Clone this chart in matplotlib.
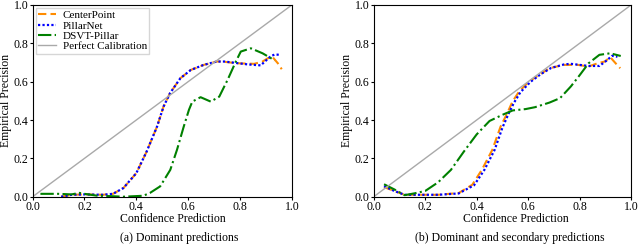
import matplotlib
matplotlib.use("Agg")
import matplotlib.pyplot as plt

plt.rcParams['font.family'] = ['Liberation Serif', 'DejaVu Serif']

# (a) dominant predictions
a_cp_x = [0.11, 0.15, 0.2, 0.27, 0.31, 0.35, 0.4, 0.44, 0.48, 0.505, 0.53, 0.57, 0.61, 0.66, 0.71, 0.73, 0.79, 0.855, 0.887, 0.907, 0.926, 0.946, 0.961]
a_cp_y = [0.0, 0.01, 0.012, 0.01, 0.015, 0.045, 0.123, 0.236, 0.366, 0.47, 0.54, 0.618, 0.661, 0.6875, 0.705, 0.705, 0.696, 0.693, 0.705, 0.722, 0.728, 0.696, 0.665]
a_pn_x = [0.11, 0.15, 0.2, 0.27, 0.31, 0.35, 0.4, 0.44, 0.48, 0.505, 0.53, 0.57, 0.61, 0.66, 0.71, 0.74, 0.8, 0.83, 0.88, 0.9, 0.92, 0.935, 0.952]
a_pn_y = [0.0, 0.01, 0.012, 0.01, 0.015, 0.045, 0.123, 0.236, 0.366, 0.47, 0.54, 0.618, 0.661, 0.6875, 0.705, 0.705, 0.695, 0.69, 0.685, 0.71, 0.734, 0.742, 0.74]
a_ds_x = [0.03, 0.1, 0.15, 0.18, 0.2, 0.25, 0.3, 0.35, 0.427, 0.453, 0.492, 0.531, 0.557, 0.583, 0.603, 0.616, 0.648, 0.687, 0.72, 0.739, 0.752, 0.784, 0.803, 0.842, 0.887, 0.92, 0.933]
a_ds_y = [0.015, 0.015, 0.012, 0.02, 0.015, 0.005, 0.003, 0.0, 0.005, 0.02, 0.054, 0.14, 0.245, 0.366, 0.453, 0.496, 0.519, 0.496, 0.522, 0.574, 0.609, 0.705, 0.757, 0.774, 0.748, 0.722, 0.71]

# (b) dominant and secondary predictions
b_cp_x = [0.04, 0.08, 0.12, 0.2, 0.25, 0.33, 0.383, 0.42, 0.461, 0.493, 0.519, 0.539, 0.565, 0.603, 0.642, 0.683, 0.738, 0.794, 0.835, 0.87, 0.898, 0.919, 0.94, 0.958]
b_cp_y = [0.05, 0.03, 0.01, 0.01, 0.01, 0.019, 0.0625, 0.14, 0.245, 0.366, 0.436, 0.496, 0.549, 0.60, 0.635, 0.67, 0.6875, 0.6875, 0.679, 0.696, 0.705, 0.728, 0.696, 0.67]
b_pn_x = [0.04, 0.08, 0.12, 0.2, 0.25, 0.33, 0.39, 0.43, 0.47, 0.5, 0.525, 0.545, 0.57, 0.61, 0.65, 0.69, 0.74, 0.766, 0.835, 0.877, 0.905, 0.926, 0.947]
b_pn_y = [0.055, 0.03, 0.01, 0.01, 0.01, 0.017, 0.06, 0.14, 0.245, 0.36, 0.436, 0.49, 0.545, 0.60, 0.64, 0.672, 0.69, 0.693, 0.682, 0.682, 0.71, 0.735, 0.73]
b_ds_x = [0.04, 0.08, 0.12, 0.16, 0.2, 0.25, 0.3, 0.35, 0.4, 0.45, 0.5, 0.54, 0.59, 0.627, 0.683, 0.724, 0.766, 0.801, 0.835, 0.877, 0.919, 0.96]
b_ds_y = [0.065, 0.038, 0.008, 0.018, 0.03, 0.075, 0.14, 0.235, 0.325, 0.395, 0.427, 0.45, 0.457, 0.467, 0.491, 0.514, 0.575, 0.635, 0.696, 0.74, 0.748, 0.734]

panels = [
    ((a_cp_x, a_cp_y), (a_pn_x, a_pn_y), (a_ds_x, a_ds_y), '(a) Dominant predictions'),
    ((b_cp_x, b_cp_y), (b_pn_x, b_pn_y), (b_ds_x, b_ds_y), '(b) Dominant and secondary predictions'),
]

fig = plt.figure(figsize=(6.4, 2.49), dpi=100)
rects = [[0.051, 0.21, 0.405, 0.77], [0.584, 0.21, 0.402, 0.77]]
xlab_pos = [0.54, 0.554]
cap_pos = [0.28, 0.797]

for i, (cp, pn, ds, cap) in enumerate(panels):
    ax = fig.add_axes(rects[i])
    ax.plot(cp[0], cp[1], linestyle=(0, (4, 2)), color='#ff8c00', lw=1.5, label='CenterPoint')
    ax.plot(pn[0], pn[1], linestyle=(0, (1, 1)), color='blue', lw=1.6, label='PillarNet')
    ax.plot(ds[0], ds[1], linestyle='-.', color='green', lw=1.5, label='DSVT-Pillar')
    ax.plot([0, 1], [0, 1], color='darkgray', lw=1.0, label='Perfect Calibration')
    ax.set_xlim(0, 1)
    ax.set_ylim(0, 1)
    ax.set_xticks([0, 0.2, 0.4, 0.6, 0.8, 1.0])
    ax.set_yticks([0, 0.2, 0.4, 0.6, 0.8, 1.0])
    ax.tick_params(labelsize=8.5, length=2, pad=1)
    ax.set_xlabel('Confidence Prediction', fontsize=8.5, labelpad=-1)
    ax.xaxis.set_label_coords(xlab_pos[i], -0.085)
    ax.set_ylabel('Empirical Precision', fontsize=8.5, labelpad=1)
    if i == 0:
        ax.legend(loc='upper left', fontsize=8, handlelength=1.6, borderpad=0.2,
                  labelspacing=0.05, handletextpad=0.6, borderaxespad=0.3, fancybox=False)
    fig.text(cap_pos[i], 0.045, cap, ha='center', va='center', fontsize=8.5)

fig.savefig('out.png', dpi=100)
